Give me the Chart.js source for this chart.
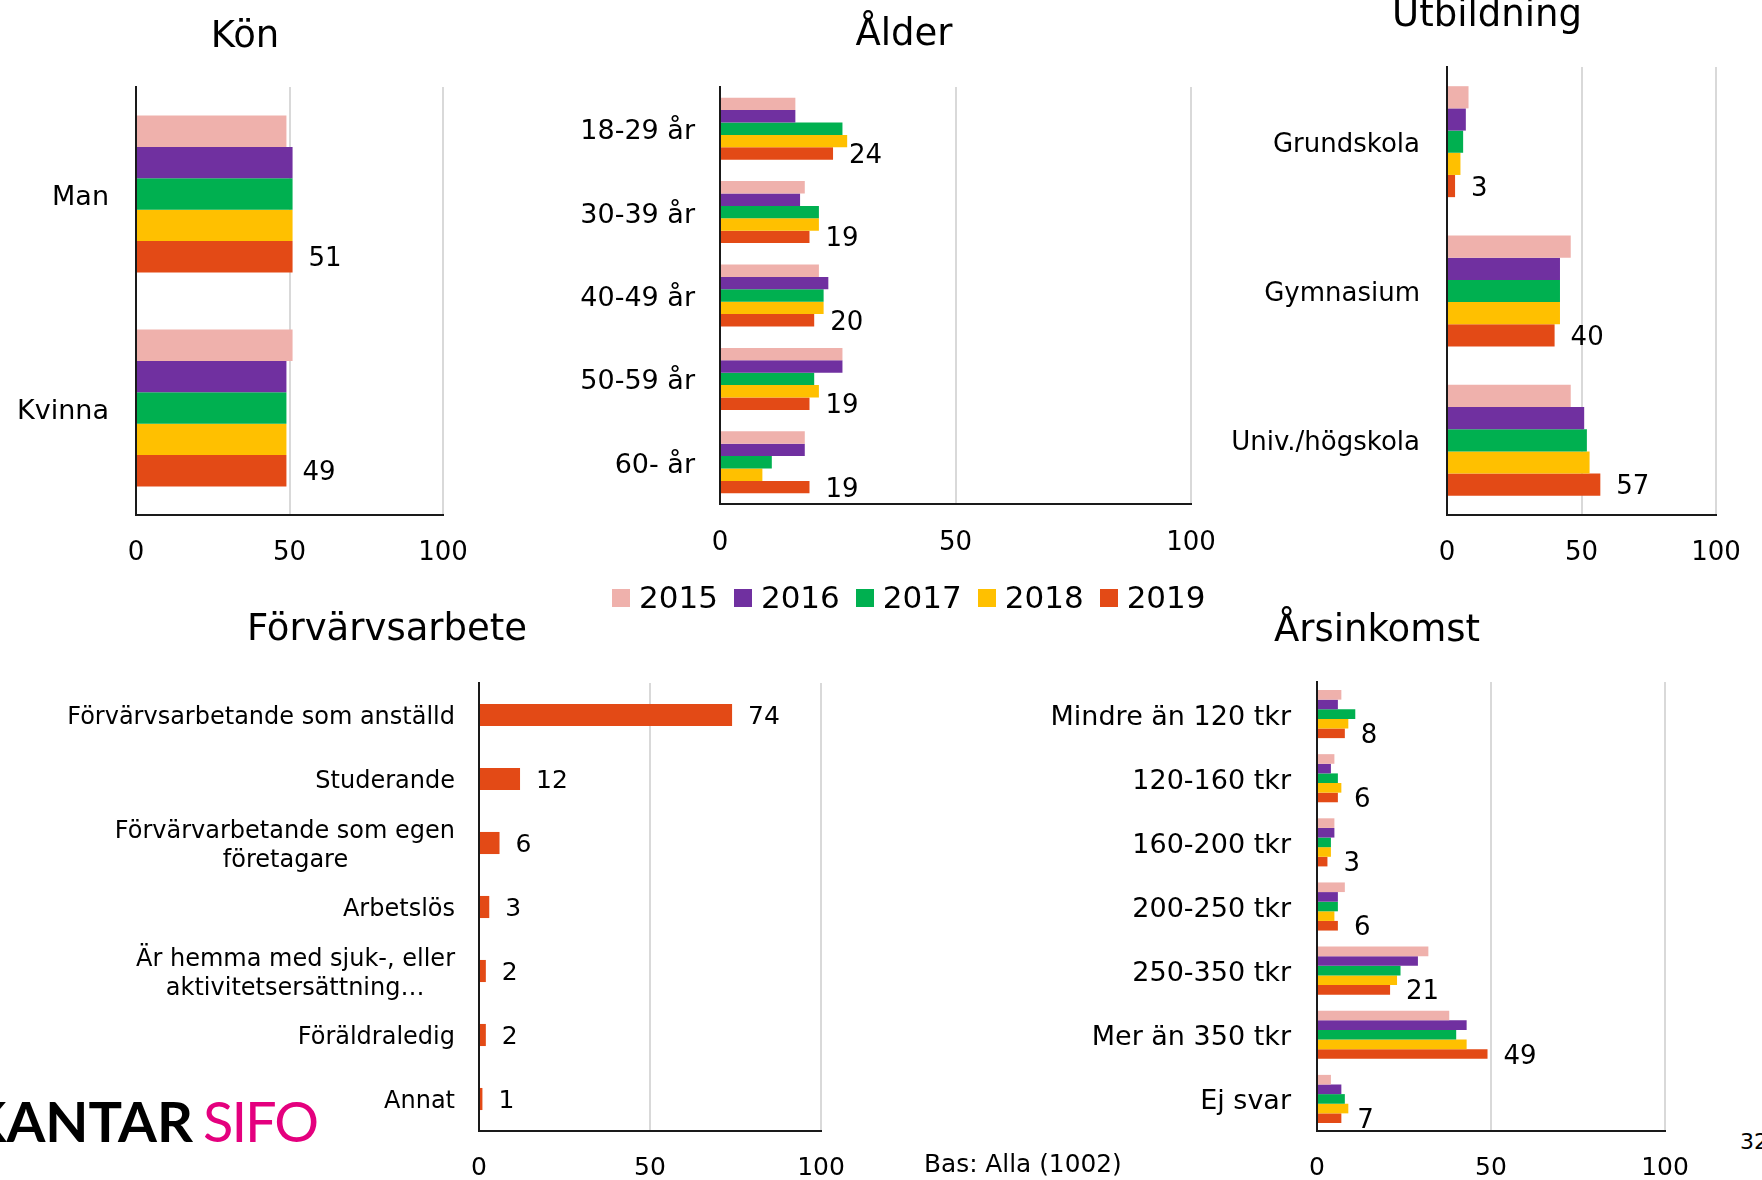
<!DOCTYPE html>
<html>
<head>
<meta charset="utf-8">
<script src="https://cdn.jsdelivr.net/npm/chart.js@4.4.0/dist/chart.umd.min.js"></script>
<style>
  body { margin: 0; width: 1762px; height: 1180px; overflow: hidden; background: #fff;
         font-family: 'DejaVu Sans', sans-serif; color: #000; position: relative; }
  canvas { position: absolute; }
  .title { position: absolute; font-size: 37px; line-height: 37px; white-space: nowrap; transform: translateX(-50%); }
  #legend { position: absolute; left: 612px; top: 582px; display: flex; gap: 16px; font-size: 31px; line-height: 31px; }
  #legend span { display: flex; align-items: center; }
  #legend i { display: inline-block; width: 18px; height: 18px; margin-right: 9px; }
  .logo { position: absolute; top: 1093px; font-family: Lato, sans-serif; font-size: 56px; line-height: 56px; white-space: nowrap; }
  .note { position: absolute; white-space: nowrap; }
</style>
</head>
<body>

<canvas id="kon" width="493" height="600" style="left:0;top:0"></canvas>
<canvas id="alder" width="761" height="600" style="left:480px;top:0"></canvas>
<canvas id="utb" width="586" height="600" style="left:1180px;top:0"></canvas>
<canvas id="forv" width="871" height="600" style="left:0;top:600px"></canvas>
<canvas id="ink" width="835" height="600" style="left:880px;top:600px"></canvas>

<div class="title" style="left:245px;top:16px">Kön</div>
<div class="title" style="left:904px;top:14px">Ålder</div>
<div class="title" style="left:1487px;top:-5px">Utbildning</div>
<div class="title" style="left:387px;top:609px">Förvärvsarbete</div>
<div class="title" style="left:1377px;top:610px">Årsinkomst</div>

<div id="legend"></div>

<div class="logo" style="right:1569px;font-weight:700">KANTAR</div>
<div class="logo" style="left:203px;color:#e4007e;letter-spacing:-2px">SIFO</div>
<div class="note" style="left:924px;top:1152px;font-size:24.8px;line-height:24.8px">Bas: Alla (1002)</div>
<div class="note" style="left:1740px;top:1131px;font-size:22px;line-height:22px">32</div>

<script>
var years = ['2015', '2016', '2017', '2018', '2019'];
var colors = ['#efb1ac', '#7030a0', '#00b050', '#ffc000', '#e34a16'];

// Kön
var konLabels = ['Man', 'Kvinna'];
var kon2015 = [49, 51];
var kon2016 = [51, 49];
var kon2017 = [51, 49];
var kon2018 = [51, 49];
var kon2019 = [51, 49];

// Ålder
var alderLabels = ['18-29 år', '30-39 år', '40-49 år', '50-59 år', '60- år'];
var alder2015 = [16, 18, 21, 26, 18];
var alder2016 = [16, 17, 23, 26, 18];
var alder2017 = [26, 21, 22, 20, 11];
var alder2018 = [27, 21, 22, 21, 9];
var alder2019 = [24, 19, 20, 19, 19];

// Utbildning
var utbLabels = ['Grundskola', 'Gymnasium', 'Univ./högskola'];
var utb2015 = [8, 46, 46];
var utb2016 = [7, 42, 51];
var utb2017 = [6, 42, 52];
var utb2018 = [5, 42, 53];
var utb2019 = [3, 40, 57];

// Förvärvsarbete (bara 2019)
var forvLabels = ['Förvärvsarbetande som anställd', 'Studerande',
  ['Förvärvarbetande som egen', 'företagare'], 'Arbetslös',
  ['Är hemma med sjuk-, eller', 'aktivitetsersättning…'], 'Föräldraledig', 'Annat'];
var forv2019 = [74, 12, 6, 3, 2, 2, 1];

// Årsinkomst
var inkLabels = ['Mindre än 120 tkr', '120-160 tkr', '160-200 tkr', '200-250 tkr',
  '250-350 tkr', 'Mer än 350 tkr', 'Ej svar'];
var ink2015 = [7, 5, 5, 8, 32, 38, 4];
var ink2016 = [6, 4, 5, 6, 29, 43, 7];
var ink2017 = [11, 6, 4, 6, 24, 40, 8];
var ink2018 = [9, 7, 4, 5, 23, 43, 9];
var ink2019 = [8, 6, 3, 6, 21, 49, 7];

Chart.defaults.font.family = "'DejaVu Sans', sans-serif";
Chart.defaults.color = '#000';

// legend
var legend = document.getElementById('legend');
years.forEach(function (y, i) {
  var s = document.createElement('span');
  s.innerHTML = '<i style="background:' + colors[i] + '"></i>' + y;
  legend.appendChild(s);
});

// center the lines of a two-line label (excel does it, chart.js right-aligns)
function centerLines(label, size) {
  if (!Array.isArray(label)) return label;
  var c = document.createElement('canvas').getContext('2d');
  c.font = size + "px 'DejaVu Sans'";
  var w = label.map(function (l) { return c.measureText(l).width; });
  var max = Math.max.apply(null, w);
  var sp = c.measureText(' ').width;
  return label.map(function (l, i) { return l + ' '.repeat(Math.round((max - w[i]) / 2 / sp)); });
}

// value label for the last year, then nudge the tick labels (z:1) down a bit
// so they sit cap-centred like in excel
var valueLabels = {
  id: 'valueLabels',
  afterDatasetsDraw: function (chart, args, opts) {
    var n = chart.data.datasets.length - 1;
    var meta = chart.getDatasetMeta(n);
    var c = chart.ctx;
    c.save();
    c.font = opts.size + "px 'DejaVu Sans'";
    c.fillStyle = '#000';
    c.textAlign = 'left';
    c.textBaseline = 'alphabetic';
    meta.data.forEach(function (bar, i) {
      c.fillText(chart.data.datasets[n].data[i], bar.x + 16, bar.y + opts.size * 0.365);
    });
    c.restore();
    c.save();
    c.translate(0, opts.shift);
  },
  afterDraw: function (chart) {
    chart.ctx.restore();
  }
};

function makeChart(id, labels, series, yearIdx, o) {
  var ctx = document.getElementById(id).getContext('2d');
  var datasets = series.map(function (vals, i) {
    var k = yearIdx[i];
    return { label: years[k], data: vals, backgroundColor: colors[k], borderWidth: 0 };
  });
  return new Chart(ctx, {
    type: 'bar',
    data: { labels: labels.map(function (l) { return centerLines(l, o.labelSize); }), datasets: datasets },
    options: {
      indexAxis: 'y',
      responsive: false,
      animation: false,
      devicePixelRatio: 1,
      categoryPercentage: o.cat,
      barPercentage: 1,
      layout: { padding: { top: o.top, right: o.right, left: 0, bottom: 0 } },
      plugins: {
        legend: { display: false },
        tooltip: { enabled: false },
        valueLabels: { size: o.valueSize, shift: o.labelSize * 0.13 }
      },
      scales: {
        x: {
          min: 0, max: 100,
          ticks: { stepSize: 50, padding: o.xpad, font: { size: o.tickSize }, color: '#000', z: 1 },
          grid: {
            color: function (c) { return c.tick && c.tick.value === 0 ? 'rgba(0,0,0,0)' : '#d9d9d9'; },
            lineWidth: 2, drawTicks: false
          },
          border: { color: '#1a1a1a', width: 2 },
          afterFit: function (s) { s.height = o.xh; }
        },
        y: {
          ticks: { padding: o.ypad, autoSkip: false, font: { size: o.labelSize, lineHeight: 1.2 }, color: '#000', z: 1 },
          grid: { display: false, drawTicks: false },
          border: { color: '#1a1a1a', width: 2 },
          afterFit: function (s) { s.width = o.yw; }
        }
      }
    },
    plugins: [valueLabels]
  });
}

var all = [0, 1, 2, 3, 4];

makeChart('kon', konLabels, [kon2015, kon2016, kon2017, kon2018, kon2019], all,
  { top: 87, right: 50, yw: 136, xh: 85, cat: 0.733, xpad: 19, ypad: 27, tickSize: 26, labelSize: 27, valueSize: 26 });

makeChart('alder', alderLabels, [alder2015, alder2016, alder2017, alder2018, alder2019], all,
  { top: 87, right: 50, yw: 240, xh: 96, cat: 0.743, xpad: 20, ypad: 25, tickSize: 26, labelSize: 27, valueSize: 26 });

makeChart('utb', utbLabels, [utb2015, utb2016, utb2017, utb2018, utb2019], all,
  { top: 67, right: 50, yw: 267, xh: 85, cat: 0.743, xpad: 19, ypad: 27, tickSize: 26, labelSize: 26, valueSize: 26 });

makeChart('forv', forvLabels, [forv2019], [4],
  { top: 83, right: 50, yw: 479, xh: 69, cat: 0.345, xpad: 19, ypad: 24, tickSize: 25, labelSize: 24, valueSize: 25 });

makeChart('ink', inkLabels, [ink2015, ink2016, ink2017, ink2018, ink2019], all,
  { top: 82, right: 50, yw: 437, xh: 69, cat: 0.75, xpad: 19, ypad: 26, tickSize: 25, labelSize: 27, valueSize: 26 });
</script>
</body>
</html>
